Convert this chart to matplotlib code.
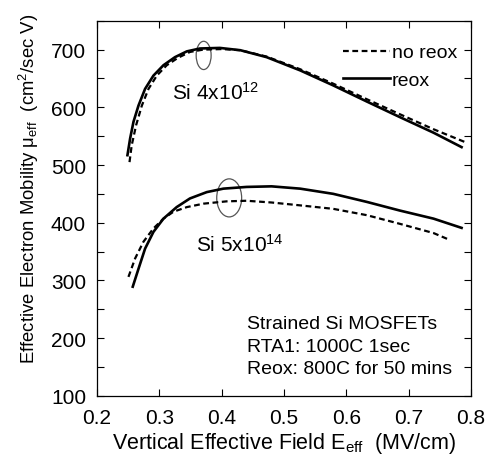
import numpy as np
import matplotlib
matplotlib.use("Agg")
import matplotlib.pyplot as plt
from matplotlib.patches import Ellipse
from matplotlib.ticker import MultipleLocator

plt.rcParams['font.family'] = ['Liberation Sans', 'DejaVu Sans']
plt.rcParams['mathtext.default'] = 'regular'

# upper pair (Si 4x10^12)
e_hi_reox = [0.2487, 0.253, 0.2584, 0.2664, 0.277, 0.2904, 0.3065, 0.325, 0.344, 0.365,
             0.397, 0.430, 0.472, 0.526, 0.579, 0.633, 0.686, 0.740, 0.785]
mu_hi_reox = [517, 546, 575, 603, 632, 655, 673, 687, 697, 702,
              703, 699, 687, 664, 638, 610, 583, 556, 531]
e_hi_noreox = [0.252, 0.2555, 0.2626, 0.2718, 0.2825, 0.2958, 0.3118, 0.330, 0.349, 0.370,
               0.400, 0.430, 0.472, 0.526, 0.579, 0.633, 0.686, 0.740, 0.790]
mu_hi_noreox = [505, 534, 569, 603, 632, 655, 673, 686, 696, 700,
                701, 699, 688, 666, 641, 614, 588, 562, 540]

# lower pair (Si 5x10^14)
e_lo_reox = [0.2572, 0.2664, 0.277, 0.2904, 0.3065, 0.3277, 0.349, 0.376, 0.4026, 0.440,
             0.480, 0.526, 0.579, 0.633, 0.686, 0.740, 0.785]
mu_lo_reox = [289, 320, 355, 384, 407, 427, 442, 453, 459, 462,
              463, 459, 450, 436, 421, 407, 391]
e_lo_noreox = [0.2503, 0.261, 0.2744, 0.2904, 0.3065, 0.3225, 0.344, 0.371, 0.408, 0.440,
               0.480, 0.526, 0.579, 0.633, 0.686, 0.740, 0.764]
mu_lo_noreox = [306, 338, 367, 390, 407, 419, 427, 433, 437, 438,
                435, 430, 424, 413, 398, 382, 371]

fig = plt.figure(figsize=(4.88, 4.64), dpi=100)
ax = fig.add_axes([0.199, 0.145, 0.766, 0.808])

dash = (0, (2.6, 1.6))
ax.plot(e_hi_noreox, mu_hi_noreox, color='black', lw=1.6, ls=dash, label='no reox')
ax.plot(e_hi_reox, mu_hi_reox, color='black', lw=1.9, label='reox')
ax.plot(e_lo_noreox, mu_lo_noreox, color='black', lw=1.6, ls=dash)
ax.plot(e_lo_reox, mu_lo_reox, color='black', lw=1.9)

ax.add_patch(Ellipse((0.371, 690), 0.024, 49, fill=False, ec='#555555', lw=0.9))
ax.add_patch(Ellipse((0.412, 443), 0.040, 66, fill=False, ec='#555555', lw=0.9))

ax.text(0.320, 627, 'Si 4x10$^{12}$', fontsize=15, va='center')
ax.text(0.358, 364, 'Si 5x10$^{14}$', fontsize=15, va='center')
ax.text(0.44, 226, 'Strained Si MOSFETs', fontsize=14, va='center')
ax.text(0.44, 186, 'RTA1: 1000C 1sec', fontsize=14, va='center')
ax.text(0.44, 148, 'Reox: 800C for 50 mins', fontsize=14, va='center')

ax.set_xlim(0.2, 0.8)
ax.set_ylim(100, 750)
ax.xaxis.set_major_locator(MultipleLocator(0.1))
ax.yaxis.set_minor_locator(MultipleLocator(50))
ax.set_yticks([100, 200, 300, 400, 500, 600, 700])
ax.tick_params(which='both', direction='in', top=True, right=True, length=5, width=0.8,
               labelsize=15)
ax.tick_params(axis='y', pad=8)
ax.tick_params(axis='x', pad=9)
for s in ax.spines.values():
    s.set_linewidth(0.9)

ax.set_xlabel('Vertical Effective Field E$_{eff}$  (MV/cm)', fontsize=15.5, labelpad=2)
ax.set_ylabel('Effective Electron Mobility \u03bc$_{eff}$  (cm$^2$/sec V)', fontsize=13.3)
ax.yaxis.set_label_coords(-0.15, 0.553)

ax.legend(loc='upper right', bbox_to_anchor=(1.0, 0.975), frameon=False, fontsize=14,
          handlelength=2.4, handletextpad=0.1, labelspacing=0.5, borderaxespad=0.3)

fig.savefig('out.png', dpi=100)
